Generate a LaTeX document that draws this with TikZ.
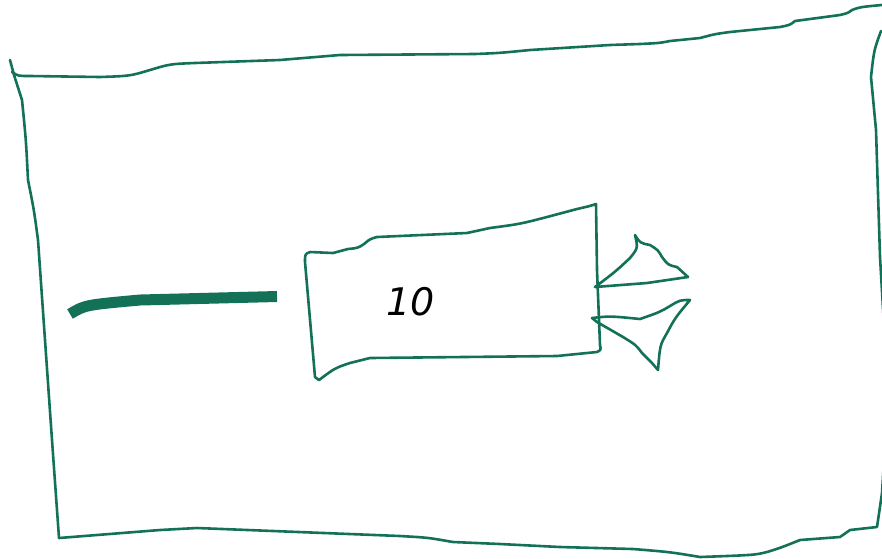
\documentclass[tikz,border=0pt]{standalone}
\usepackage{fontspec}
\setsansfont{DejaVu Sans}
\begin{document}
\begin{tikzpicture}[x=1pt,y=-1pt,line join=round,line cap=round]
\definecolor{ink}{HTML}{137157}
\tikzset{sketch/.style={draw=ink,line width=2.6pt},
  thickstroke/.style={draw=ink,line width=11pt,line cap=butt}}
\useasboundingbox (0,0) rectangle (882,558);
\clip (0,0) rectangle (882,558);
% outer frame
\draw[sketch] (10,60) -- (14,75) -- (22,100) .. controls (26,140) .. (28,180)
  .. controls (34,210) .. (38,240) -- (52,440) -- (59,538);
\draw[sketch] (12,72) .. controls (18,76) .. (30,76) -- (100,77)
  .. controls (130,76) .. (150,70) .. controls (170,64) .. (195,63)
  -- (280,60) .. controls (310,57) .. (340,55) -- (475,54)
  .. controls (500,53) .. (530,50) -- (610,45) -- (640,44)
  .. controls (660,43) .. (670,41) -- (700,38) .. controls (715,34) .. (730,32)
  -- (780,27) .. controls (790,25) .. (795,21) -- (840,15)
  .. controls (848,13) .. (852,10) .. controls (860,7) .. (882,5);
\draw[sketch] (881,31) .. controls (874,50) .. (871,77) -- (876,130)
  -- (880,257) -- (886,360) -- (884,460) -- (882,493) -- (877,527)
  -- (850,530) .. controls (845,533) .. (840,537) -- (800,540)
  .. controls (780,548) .. (767,552) .. controls (755,555) .. (700,557)
  .. controls (670,552) .. (633,549) -- (560,547) -- (500,544)
  -- (453,542) .. controls (430,538) .. (417,537) -- (400,536)
  -- (197,528) -- (160,530) -- (59,538);
% thick line
\draw[thickstroke] (70,314) .. controls (85,305) .. (140,300) -- (277,296.5);
% inner box
\draw[sketch] (310,252) .. controls (305,254) .. (305,262) -- (315,377) -- (319,380)
  .. controls (335,368) .. (350,363) -- (370,358) -- (557,356)
  -- (597,352) .. controls (601,350) .. (600,345) -- (597,270) -- (596,204)
  .. controls (590,206) .. (577,209) -- (547,217) .. controls (520,224) .. (490,228)
  -- (467,233) -- (377,237) .. controls (370,239) .. (364,244)
  .. controls (358,248) .. (348,249) -- (333,253) -- (310,252);
\node[font=\sffamily\itshape,text=black,scale=3.8] (val) at (411,302) {10};
% arrow head (split)
\draw[sketch] (595,287) .. controls (615,272) .. (630,258) .. controls (638,248) .. (635,235)
  .. controls (640,243) .. (650,245) .. controls (658,250) .. (662,257)
  .. controls (668,265) .. (677,267) -- (688,277) -- (647,283) -- (595,287);
\draw[sketch] (592,318) .. controls (610,316) .. (640,319)
  .. controls (660,312) .. (670,306) .. controls (680,300) .. (690,300)
  .. controls (675,318) .. (667,333) .. controls (660,345) .. (658,370)
  -- (652,363) -- (642,353) .. controls (636,345) .. (623,337)
  .. controls (610,330) .. (597,322) -- (592,318);
\end{tikzpicture}
\end{document}
